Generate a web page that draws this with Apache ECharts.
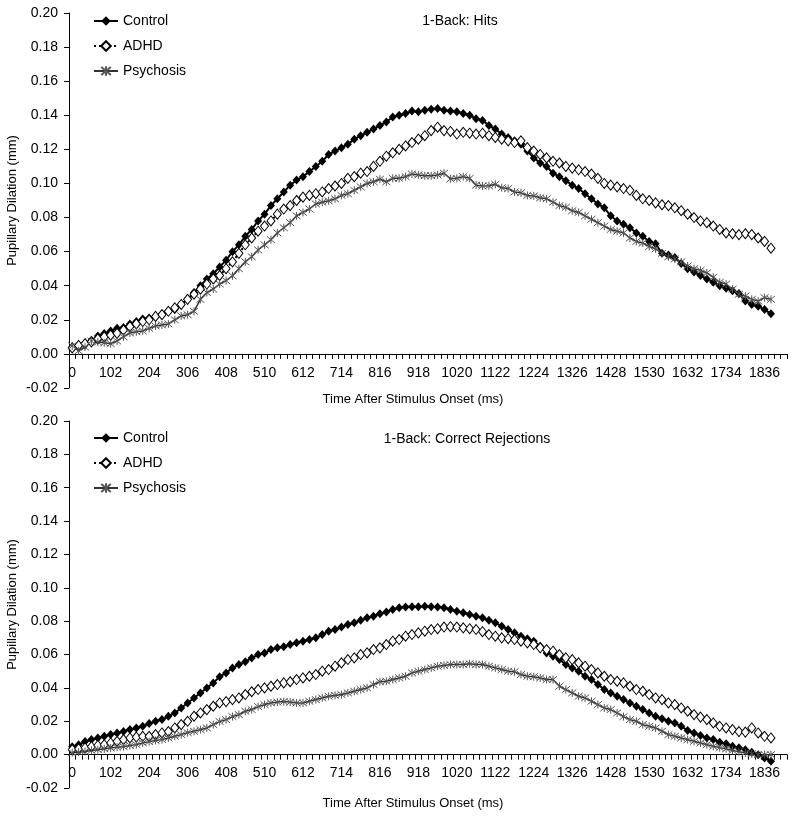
<!DOCTYPE html>
<html>
<head>
<meta charset="utf-8">
<script src="https://cdn.jsdelivr.net/npm/echarts@6/dist/echarts.min.js"></script>
<style>
html,body{margin:0;padding:0;background:#fff;}
#chart{width:800px;height:816px;}
</style>
</head>
<body>
<div id="chart"></div>
<script>
// Time categories (ms)
var timeCategories = [0,17,34,51,68,85,102,119,136,153,170,187,204,221,238,255,272,289,306,323,340,357,374,391,408,425,442,459,476,493,510,527,544,561,578,595,612,629,646,663,680,697,714,731,748,765,782,799,816,833,850,867,884,901,918,935,952,969,986,1003,1020,1037,1054,1071,1088,1105,1122,1139,1156,1173,1190,1207,1224,1241,1258,1275,1292,1309,1326,1343,1360,1377,1394,1411,1428,1445,1462,1479,1496,1513,1530,1547,1564,1581,1598,1615,1632,1649,1666,1683,1700,1717,1734,1751,1768,1785,1802,1819,1836,1853,1870,1887];

var seriesNames = ["Control", "ADHD", "Psychosis"];
var titleHits = "1-Back: Hits";
var titleCR = "1-Back: Correct Rejections";
var xAxisTitle = "Time After Stimulus Onset (ms)";
var yAxisTitle = "Pupillary Dilation (mm)";

// Panel 1: Hits
var hitsControl = [0.004,0.005,0.0065,0.008,0.0105,0.012,0.0135,0.015,0.0155,0.0176,0.019,0.0205,0.021,0.022,0.0235,0.025,0.026,0.029,0.032,0.036,0.040,0.044,0.047,0.051,0.055,0.060,0.064,0.069,0.073,0.078,0.082,0.087,0.091,0.095,0.099,0.102,0.104,0.107,0.110,0.113,0.117,0.119,0.121,0.123,0.126,0.128,0.130,0.132,0.134,0.136,0.139,0.140,0.141,0.1425,0.142,0.143,0.1435,0.144,0.143,0.1425,0.142,0.141,0.140,0.138,0.137,0.134,0.132,0.129,0.127,0.125,0.123,0.119,0.115,0.112,0.110,0.106,0.104,0.1016,0.099,0.097,0.094,0.091,0.088,0.0857,0.081,0.078,0.076,0.074,0.071,0.069,0.066,0.0646,0.059,0.058,0.0565,0.053,0.050,0.048,0.046,0.044,0.042,0.040,0.0385,0.037,0.0355,0.031,0.029,0.028,0.026,0.0235];
var hitsADHD = [0.0035,0.005,0.006,0.007,0.0088,0.010,0.011,0.012,0.014,0.016,0.0176,0.019,0.020,0.022,0.023,0.025,0.027,0.029,0.032,0.035,0.038,0.041,0.044,0.046,0.050,0.054,0.059,0.064,0.068,0.072,0.075,0.078,0.082,0.085,0.087,0.090,0.092,0.093,0.094,0.095,0.097,0.0985,0.100,0.103,0.104,0.106,0.107,0.110,0.113,0.116,0.118,0.120,0.122,0.124,0.126,0.128,0.131,0.133,0.131,0.1305,0.129,0.130,0.1295,0.129,0.1295,0.128,0.127,0.126,0.125,0.124,0.125,0.121,0.119,0.117,0.115,0.113,0.112,0.110,0.109,0.108,0.107,0.1055,0.103,0.100,0.099,0.098,0.097,0.096,0.093,0.091,0.090,0.0886,0.0875,0.087,0.0857,0.084,0.082,0.080,0.078,0.077,0.075,0.073,0.071,0.0705,0.070,0.0705,0.070,0.068,0.066,0.062];
var hitsPsychosis = [0.0047,0.0018,0.004,0.0076,0.007,0.0065,0.006,0.0076,0.010,0.0123,0.013,0.0135,0.015,0.0164,0.017,0.0176,0.020,0.0223,0.023,0.025,0.032,0.036,0.038,0.041,0.043,0.0458,0.050,0.054,0.057,0.061,0.064,0.067,0.071,0.074,0.077,0.081,0.083,0.085,0.088,0.089,0.0898,0.091,0.093,0.094,0.096,0.098,0.100,0.101,0.1025,0.101,0.103,0.103,0.104,0.1055,0.105,0.1045,0.1045,0.105,0.106,0.1027,0.103,0.104,0.103,0.099,0.0985,0.0986,0.0995,0.0975,0.097,0.095,0.0945,0.093,0.0927,0.0916,0.091,0.089,0.087,0.086,0.084,0.083,0.081,0.079,0.077,0.075,0.073,0.072,0.071,0.068,0.066,0.065,0.063,0.0616,0.059,0.057,0.0557,0.054,0.0516,0.050,0.049,0.0475,0.045,0.042,0.041,0.038,0.035,0.034,0.032,0.031,0.033,0.032];

// Panel 2: Correct Rejections
var crControl = [0.0048,0.006,0.0078,0.009,0.010,0.011,0.012,0.013,0.0138,0.015,0.016,0.017,0.0186,0.020,0.021,0.023,0.025,0.028,0.031,0.034,0.037,0.040,0.043,0.0467,0.049,0.052,0.054,0.0557,0.058,0.060,0.061,0.063,0.064,0.0647,0.066,0.067,0.068,0.069,0.070,0.072,0.074,0.075,0.0765,0.078,0.079,0.0805,0.082,0.083,0.0845,0.0855,0.087,0.088,0.0885,0.0887,0.0887,0.089,0.0887,0.0885,0.088,0.087,0.086,0.085,0.084,0.083,0.082,0.0805,0.079,0.077,0.075,0.073,0.071,0.0695,0.068,0.065,0.061,0.059,0.057,0.054,0.052,0.050,0.047,0.045,0.042,0.039,0.037,0.035,0.033,0.031,0.029,0.027,0.025,0.023,0.0215,0.020,0.019,0.017,0.0145,0.013,0.0115,0.010,0.009,0.0075,0.0065,0.005,0.0042,0.003,0.0015,0.000,-0.002,-0.004];
var crADHD = [0.003,0.0035,0.004,0.0048,0.0055,0.006,0.007,0.008,0.009,0.010,0.0105,0.011,0.011,0.012,0.013,0.0138,0.016,0.018,0.020,0.023,0.025,0.027,0.029,0.031,0.0318,0.033,0.034,0.036,0.0377,0.039,0.040,0.041,0.042,0.043,0.0437,0.045,0.046,0.047,0.048,0.050,0.051,0.053,0.055,0.057,0.058,0.060,0.061,0.063,0.064,0.066,0.068,0.069,0.071,0.072,0.073,0.074,0.075,0.0755,0.0765,0.0767,0.0765,0.076,0.0755,0.075,0.0737,0.072,0.071,0.070,0.0695,0.069,0.068,0.067,0.066,0.064,0.063,0.062,0.060,0.058,0.057,0.055,0.053,0.051,0.049,0.047,0.045,0.044,0.043,0.041,0.039,0.038,0.036,0.034,0.033,0.031,0.030,0.028,0.026,0.024,0.0225,0.021,0.019,0.017,0.016,0.015,0.0138,0.0135,0.016,0.013,0.011,0.010];
var crPsychosis = [0.0012,0.0015,0.0018,0.0025,0.003,0.0035,0.004,0.0045,0.0048,0.0055,0.006,0.007,0.0078,0.0085,0.009,0.010,0.011,0.012,0.0132,0.014,0.015,0.016,0.018,0.0198,0.021,0.0228,0.024,0.026,0.027,0.0288,0.030,0.031,0.0315,0.0318,0.0315,0.031,0.031,0.032,0.033,0.034,0.035,0.0355,0.036,0.037,0.038,0.039,0.040,0.042,0.0437,0.044,0.045,0.046,0.047,0.049,0.050,0.051,0.052,0.053,0.0535,0.054,0.054,0.054,0.0545,0.054,0.054,0.053,0.052,0.051,0.050,0.0497,0.048,0.047,0.0467,0.046,0.045,0.045,0.041,0.039,0.037,0.035,0.034,0.032,0.030,0.028,0.027,0.025,0.0228,0.021,0.020,0.018,0.017,0.016,0.014,0.012,0.011,0.010,0.009,0.008,0.007,0.006,0.005,0.0042,0.0035,0.0025,0.0018,0.001,0.0005,0.000,0.000,0.000];

var FONT = '"Liberation Sans", Arial, sans-serif';
var ASTERISK = 'path://M0,0L10,10M10,0L0,10M5,-1L5,11';

function mkSeries(name, data, idx) {
  var base = {
    name: name, type: 'line', data: data,
    xAxisIndex: idx, yAxisIndex: idx,
    showSymbol: true, showAllSymbol: true, animation: false
  };
  if (name === 'Control') {
    base.symbol = 'diamond'; base.symbolSize = [8, 9];
    base.itemStyle = {color: '#000'};
    base.lineStyle = {color: '#000', width: 2};
  } else if (name === 'ADHD') {
    base.symbol = 'diamond'; base.symbolSize = [8, 10];
    base.itemStyle = {color: '#fff', borderColor: '#000', borderWidth: 1};
    base.lineStyle = {color: '#000', width: 2, type: [2, 3]};
  } else {
    base.symbol = ASTERISK; base.symbolSize = 8;
    base.itemStyle = {color: '#555', borderColor: '#555', borderWidth: 1};
    base.lineStyle = {color: '#333', width: 1.5};
  }
  return base;
}

var ZERO_OFFSET = [-375 / 11, -367 / 11];

function mkX(idx) {
  return {
    type: 'category', gridIndex: idx, data: timeCategories, boundaryGap: true,
    position: 'bottom', offset: ZERO_OFFSET[idx],
    axisLine: {onZero: false, lineStyle: {color: '#000', width: 1}},
    axisTick: {show: true, interval: 0, length: 5, lineStyle: {color: '#000'}},
    axisLabel: {interval: 5, color: '#000', fontSize: 14, fontFamily: FONT, margin: 12},
    splitLine: {show: false}
  };
}
function mkY(idx) {
  return {
    type: 'value', gridIndex: idx, min: -0.02, max: 0.20, interval: 0.02,
    axisLine: {show: true, lineStyle: {color: '#000', width: 1}},
    axisTick: {show: true, length: 5, lineStyle: {color: '#000'}},
    axisLabel: {color: '#000', fontSize: 14, fontFamily: FONT, margin: 11,
      formatter: function (v) { return v.toFixed(2); }},
    splitLine: {show: false},
    name: yAxisTitle, nameLocation: 'middle', nameGap: 50, nameRotate: 90,
    nameMoveOverlap: false,
    nameTextStyle: {color: '#000', fontSize: 13, fontFamily: FONT}
  };
}

var chart = echarts.init(document.getElementById('chart'), null, {renderer: 'canvas'});
var legendCommon = {
  orient: 'vertical', itemWidth: 24, itemHeight: 12, itemGap: 11,
  textStyle: {color: '#000', fontSize: 14, fontFamily: FONT},
  data: seriesNames, selectedMode: false
};
chart.setOption({
  backgroundColor: '#fff',
  animation: false,
  title: [
    {text: titleHits, left: 455, top: 9, textAlign: 'center',
     textStyle: {fontSize: 14, fontWeight: 'normal', color: '#000', fontFamily: FONT}},
    {text: titleCR, left: 462, top: 427, textAlign: 'center',
     textStyle: {fontSize: 14, fontWeight: 'normal', color: '#000', fontFamily: FONT}},
    {text: xAxisTitle, left: 408, top: 388, textAlign: 'center',
     textStyle: {fontSize: 13, fontWeight: 'normal', color: '#000', fontFamily: FONT}},
    {text: xAxisTitle, left: 408, top: 792, textAlign: 'center',
     textStyle: {fontSize: 13, fontWeight: 'normal', color: '#000', fontFamily: FONT}}
  ],
  legend: [
    Object.assign({left: 88, top: 9}, legendCommon),
    Object.assign({left: 88, top: 426}, legendCommon)
  ],
  grid: [
    {left: 69, top: 13, width: 718, height: 375, outerBoundsMode: 'none', containLabel: false},
    {left: 69, top: 421, width: 718, height: 367, outerBoundsMode: 'none', containLabel: false}
  ],
  xAxis: [mkX(0), mkX(1)],
  yAxis: [mkY(0), mkY(1)],
  series: [
    mkSeries('Control', hitsControl, 0),
    mkSeries('ADHD', hitsADHD, 0),
    mkSeries('Psychosis', hitsPsychosis, 0),
    mkSeries('Control', crControl, 1),
    mkSeries('ADHD', crADHD, 1),
    mkSeries('Psychosis', crPsychosis, 1)
  ]
});
</script>
</body>
</html>
